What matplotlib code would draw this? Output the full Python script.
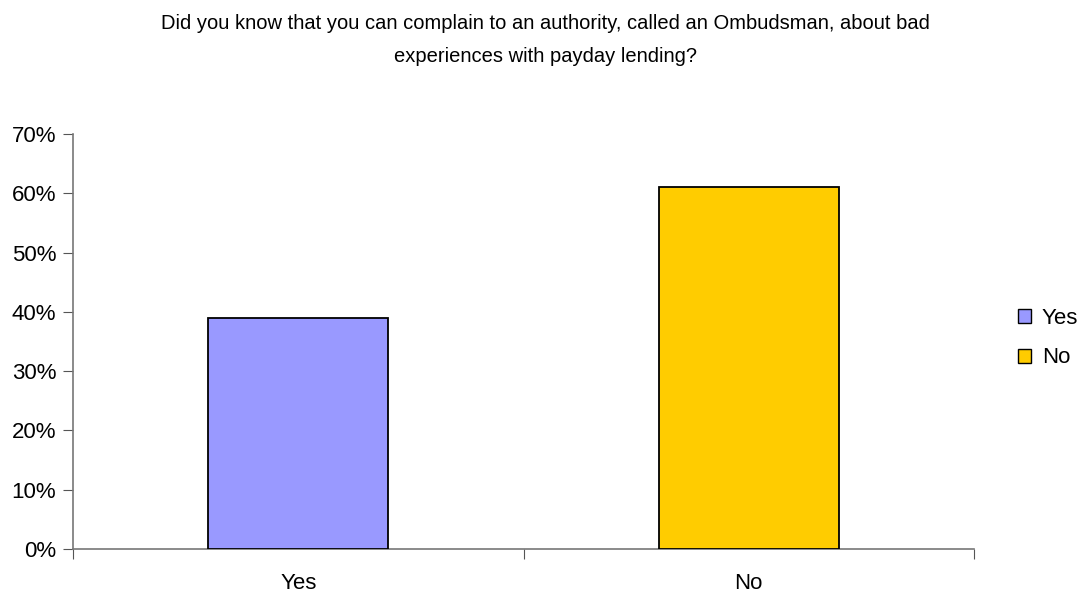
import matplotlib
matplotlib.use("Agg")
import matplotlib.pyplot as plt
from matplotlib.patches import Patch

categories = ["Yes", "No"]
values = [39, 61]
colors = ["#9999FF", "#FFCC00"]
yticks = [0, 10, 20, 30, 40, 50, 60, 70]
title = "Did you know that you can complain to an authority, called an Ombudsman, about bad\nexperiences with payday lending?"

plt.rcParams['font.family'] = ['Liberation Sans', 'DejaVu Sans']

fig = plt.figure(figsize=(10.82, 5.96), dpi=100)
ax = fig.add_axes([73/1082, 1-549/596, (974-73)/1082, (549-134)/596])

x = list(range(len(categories)))
ax.bar(x, values, width=0.4, color=colors, edgecolor="black", linewidth=1.3, zorder=3)

ax.set_xlim(-0.5, len(categories) - 0.5)
ax.set_ylim(0, 70)
ax.set_yticks(yticks)
ax.set_yticklabels([f"{v}%" for v in yticks], fontsize=16)
ax.set_xticks([i - 0.5 for i in range(len(categories) + 1)])
ax.set_xticklabels([])
ax.set_xticks(x, minor=True)
ax.set_xticklabels(categories, minor=True, fontsize=16)
ax.tick_params(axis='x', which='minor', length=0, pad=17)
ax.tick_params(axis='x', which='major', length=7, color='#555555', direction='out')
ax.tick_params(axis='y', length=7, color='#555555', direction='out', pad=5)

for s in ['top', 'right']:
    ax.spines[s].set_visible(False)
for s in ['left', 'bottom']:
    ax.spines[s].set_color('#777777')
    ax.spines[s].set_linewidth(1.2)

fig.text(545/1082, 1-40/596, title, ha='center', va='center', fontsize=14.5, linespacing=1.9)

handles = [Patch(facecolor=c, edgecolor='black', label=l) for c, l in zip(colors, categories)]
fig.legend(handles=handles, loc='center left', bbox_to_anchor=(1002/1082, 1-338/596),
           frameon=False, fontsize=16, handlelength=0.6, handleheight=0.6,
           handletextpad=0.5, labelspacing=0.85, borderpad=0.2)

fig.savefig("out.png", dpi=100)
